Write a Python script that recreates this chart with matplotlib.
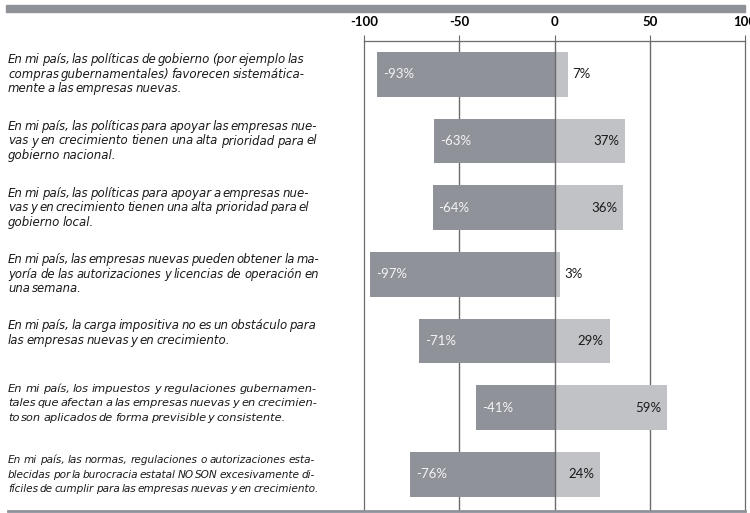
import matplotlib
matplotlib.use("Agg")
import matplotlib.pyplot as plt
from matplotlib.patches import Rectangle
from matplotlib.lines import Line2D

# statements, as laid out in the original (one string per printed line)
statements = [
    ["En mi país, las políticas de gobierno (por ejemplo las",
     "compras gubernamentales) favorecen sistemática-",
     "mente a las empresas nuevas."],
    ["En mi país,  las políticas para apoyar las empresas nue-",
     "vas y en crecimiento tienen una alta prioridad para el",
     "gobierno nacional."],
    ["En mi país, las políticas para apoyar a empresas nue-",
     "vas y en crecimiento tienen una alta prioridad para el",
     "gobierno local."],
    ["En mi país, las empresas nuevas pueden obtener la ma-",
     "yoría de las autorizaciones y licencias de operación en",
     "una semana."],
    ["En mi país, la carga impositiva no es un obstáculo para",
     "las empresas nuevas y en crecimiento."],
    ["En mi país, los impuestos y regulaciones gubernamen-",
     "tales que afectan a las empresas nuevas y en crecimien-",
     "to son aplicados de forma previsible y consistente."],
    ["En mi país, las normas, regulaciones o autorizaciones esta-",
     "blecidas por la burocracia estatal NO SON excesivamente di-",
     "fíciles de cumplir para las empresas nuevas y en crecimiento."],
]
negative = [-93, -63, -64, -97, -71, -41, -76]
positive = [7, 37, 36, 3, 29, 59, 24]
ticks = [-100, -50, 0, 50, 100]

# small vertical nudges of the text blocks (pixels, + = down)
text_shift = [0, 0, 0, 0, -8, -5, 0]

dark = "#8f9299"
light = "#c0c2c6"
band = "#8e9198"
line_col = "#6b6b6b"

W, H = 750, 513
fig = plt.figure(figsize=(7.5, 5.13), dpi=100)
ax = fig.add_axes([364 / W, 2 / H, (745 - 364) / W, (513 - 41 - 2) / H])

rows = list(range(len(negative)))
ax.barh(rows, negative, height=0.67, color=dark, zorder=2)
ax.barh(rows, positive, height=0.67, color=light, zorder=2)

ax.set_xlim(-100, 100)
ax.set_ylim(6.55, -0.5)
for v in [-50, 50]:
    ax.axvline(v, color=line_col, lw=1, zorder=1)
ax.axvline(0, color=line_col, lw=1, zorder=3)

ax.xaxis.tick_top()
ax.set_xticks(ticks)
ax.set_xticklabels([str(t) for t in ticks], fontfamily="Lato", fontweight="bold", fontsize=9.5)
ax.tick_params(axis="x", length=4, width=0.8, color=line_col, pad=5)
ax.set_yticks([])
for s in ["top", "left", "right"]:
    ax.spines[s].set_color(line_col)
    ax.spines[s].set_linewidth(0.9)
ax.spines["bottom"].set_visible(False)

# value labels
px = 200.0 / (745 - 364)  # data units per pixel
for i, (n, p) in enumerate(zip(negative, positive)):
    ax.text(n + 6 * px, i, f"{n}%", color="#f4f4f4", fontfamily="Lato",
            fontsize=9.5, va="center", ha="left", zorder=4)
    if p < 10:
        ax.text(p + 4 * px, i, f"{p}%", color="#1a1a1a", fontfamily="Lato",
                fontsize=9.5, va="center", ha="left", zorder=4)
    else:
        ax.text(p - 6 * px, i, f"{p}%", color="#1a1a1a", fontfamily="Lato",
                fontsize=9.5, va="center", ha="right", zorder=4)

# top band and bottom rule
fig.patches.append(Rectangle((6 / W, 1 - 12 / H), 739 / W, 7 / H,
                             transform=fig.transFigure, color=band, zorder=0))
fig.lines.append(Line2D([8 / W, 745 / W], [2 / H, 2 / H], transform=fig.transFigure,
                        color=band, lw=2))

# statement text, set word by word and justified by hand
renderer = fig.canvas.get_renderer()
fam = ["Liberation Sans Narrow", "DejaVu Sans"]
x0, target, limit = 8, 280, 310
lh = 14.5
tight = 0.5  # word spacing relative to the font's own space


def txt_width(s, size):
    t = fig.text(0, 0, s, fontfamily=fam, fontstyle="italic", fontsize=size)
    w = t.get_window_extent(renderer).width
    t.remove()
    return w


def compact_width(line, size):
    words = line.split()
    ws = [txt_width(w, size) for w in words]
    space = (txt_width(" ".join(words), size) - sum(ws)) / max(len(words) - 1, 1)
    return sum(ws) + tight * space * (len(words) - 1)


for i, lines in enumerate(statements):
    fs = 8.5
    widest = max(compact_width(l, fs) for l in lines)
    if widest > limit:
        fs = fs * limit / widest
    block_w = max([target] + [compact_width(l, fs) for l in lines[:-1]])
    yc = ax.transData.transform((0, i))[1] - text_shift[i]
    n = len(lines)
    for k, line in enumerate(lines):
        ymid = yc + (n - 1) / 2 * lh - k * lh
        base = ymid - 3.5
        words = line.split()
        objs = [fig.text(0, base / H, w, fontfamily=fam, fontstyle="italic",
                         fontsize=fs, color="#1a1a1a", va="baseline")
                for w in words]
        widths = [o.get_window_extent(renderer).width for o in objs]
        natural = txt_width(" ".join(words), fs)
        space = tight * (natural - sum(widths)) / max(len(words) - 1, 1)
        compact = sum(widths) + space * (len(words) - 1)
        if k < n - 1 and len(words) > 1 and compact > 0.8 * block_w:
            gap = (block_w - sum(widths)) / (len(words) - 1)
        else:
            gap = space
        x = x0
        for o, w in zip(objs, widths):
            o.set_x(x / W)
            x += w + gap

fig.savefig("out.png", dpi=100)
